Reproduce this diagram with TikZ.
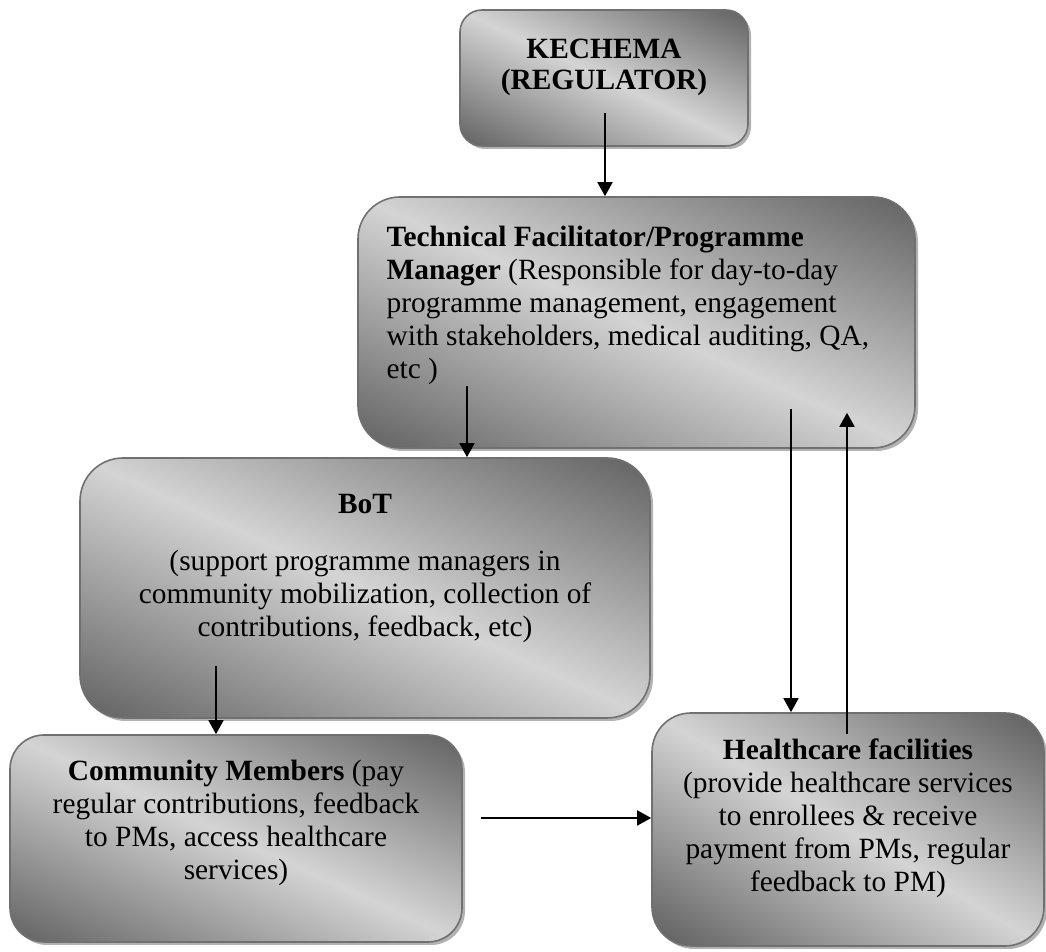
\documentclass[tikz,border=0pt]{standalone}
\usepackage{fontspec}
\setmainfont{Liberation Serif}
\usetikzlibrary{arrows.meta, calc, shadows}
\definecolor{shdark}{RGB}{98,98,98}
\definecolor{shlight}{RGB}{212,212,212}
\definecolor{edgegray}{RGB}{112,112,112}
\pgfdeclarehorizontalshading{boxshade}{100bp}{color(0bp)=(shdark);
  color(17bp)=(shdark); color(50bp)=(shlight);
  color(83bp)=(shdark); color(100bp)=(shdark)}
\newcommand{\boxlift}[1]{\rule[-#1]{0pt}{#1}}

\begin{document}
\begin{tikzpicture}[
  x=1pt, y=1pt,
  stage/.style={draw=edgegray, line width=0.8pt,
                shading=boxshade, shading angle=#1,
                drop shadow={shadow xshift=1.5pt, shadow yshift=-1.5pt,
                             fill=black, opacity=0.3},
                align=center, inner sep=0pt,
                font=\fontsize{14.7}{16.5}\selectfont},
  txt/.style={inner sep=0pt, font=\fontsize{14.7}{16.5}\selectfont},
  arr/.style={-{Triangle[length=7pt, width=7.5pt]}, line width=0.9pt}
]
\useasboundingbox (0,0) rectangle (523,476);

\node[stage=64.7, minimum width=144pt, minimum height=68pt, rounded corners=11pt,
      font=\fontsize{14.7}{15.5}\selectfont\bfseries] (kechema) at (302,437)
  {KECHEMA\\(REGULATOR)\boxlift{14pt}};

\node[stage=65.7, minimum width=278.5pt, minimum height=125.5pt,
      rounded corners=21pt] (tf) at (318.25,314.75) {};
\node[txt, anchor=base west, align=flush left, text width=250pt] (tftext)
  at ($(tf.north west)+(14.5,-25)$)
  {\textbf{Technical Facilitator/Programme}\\
   \textbf{Manager} (Responsible for day-to-day\\
   programme management, engagement\\
   with stakeholders, medical auditing, QA,\\
   etc )};

\node[stage=65.5, minimum width=285pt, minimum height=130pt,
      rounded corners=21.5pt] (bot) at (182.5,182)
  {\textbf{BoT}\\[12pt]
   (support programme managers in\\
   community mobilization, collection of\\
   contributions, feedback, etc)\boxlift{23pt}};

\node[stage=65.4, minimum width=226pt, minimum height=103.5pt,
      rounded corners=17pt] (cm) at (118,56.75)
  {\textbf{Community Members} (pay\\
   regular contributions, feedback\\
   to PMs, access healthcare\\
   services)\boxlift{18.5pt}};

\node[stage=59.3, minimum width=196pt, minimum height=116.5pt,
      rounded corners=19.5pt] (hc) at (424,61.25)
  {\textbf{Healthcare facilities}\\
   (provide healthcare services\\
   to enrollees \& receive\\
   payment from PMs, regular\\
   feedback to PM)\boxlift{14.5pt}};

% connectors
\coordinate (kout) at ($(kechema.south)+(0.5,17)$);
\draw[arr] (kout) -- (kout |- tf.north);
\coordinate (tfbot) at ($(tf.south)+(-84.75,31.5)$);
\draw[arr] (tfbot) -- (tfbot |- bot.north);
\coordinate (tfhc) at ($(tf.south)+(77.25,20)$);
\draw[arr] (tfhc) -- (tfhc |- hc.north);
\coordinate (hcout) at ($(hc.north)+(-0.5,-11)$);
\coordinate (tfin) at ($(tf.south)+(105.25,18)$);
\draw[arr] (hcout) -- (tfin);
\coordinate (botout) at ($(bot.south)+(-74.5,26.5)$);
\draw[arr] (botout) -- (botout |- cm.north);
\coordinate (cmout) at ($(cm.east)+(9,10.25)$);
\draw[arr] (cmout) -- (cmout -| hc.west);
\end{tikzpicture}
\end{document}
